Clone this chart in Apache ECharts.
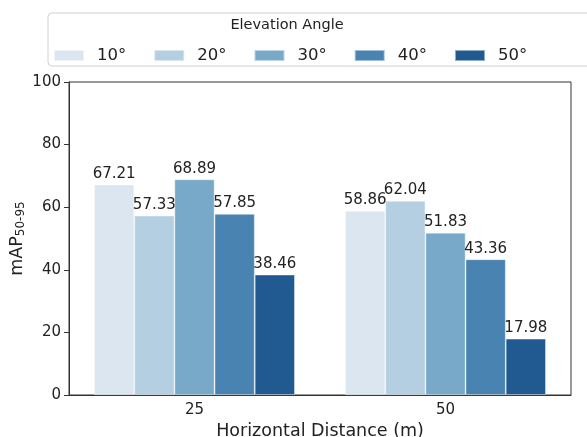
<!DOCTYPE html>
<html><head><meta charset="utf-8">
<script src="https://cdn.jsdelivr.net/npm/echarts@6/dist/echarts.min.js"></script>
<style>html,body{margin:0;padding:0;background:#fff}#c{width:587px;height:437px}</style>
</head><body><div id="c"></div>
<script>
const categories = ['25', '50'];
const seriesNames = ['10°', '20°', '30°', '40°', '50°'];
const s10 = [67.21, 58.86];
const s20 = [57.33, 62.04];
const s30 = [68.89, 51.83];
const s40 = [57.85, 43.36];
const s50 = [38.46, 17.98];
const yTicks = [0, 20, 40, 60, 80, 100];
const colors = ['#dbe6f1', '#b4cfe1', '#78a9c9', '#4883b2', '#215a90'];
const allVals = [s10, s20, s30, s40, s50];
const FONT = 'DejaVu Sans';

const chart = echarts.init(document.getElementById('c'), null, {renderer: 'canvas'});
chart.setOption({
  animation: false,
  textStyle: {fontFamily: FONT},
  title: {
    text: 'Elevation Angle', left: 287, top: 18, textAlign: 'center', padding: 0,
    textStyle: {fontFamily: FONT, fontSize: 14.5, fontWeight: 'normal', color: '#222'}
  },
  graphic: [
    {type: 'rect', shape: {x: 48, y: 13, width: 560, height: 53, r: 4},
     style: {fill: '#fff', stroke: '#d0d0d0', lineWidth: 1}, z: -1}
  ],
  legend: {
    left: 48, top: 42,
    itemWidth: 30, itemHeight: 11, itemGap: 27,
    icon: 'rect',
    textStyle: {fontFamily: FONT, fontSize: 16.5, color: '#222', padding: [0, 0, 0, 8]},
    data: seriesNames
  },
  grid: {left: 69, right: 16, top: 82, bottom: 42, outerBoundsMode: 'none', containLabel: false,
         show: true, borderColor: '#333', borderWidth: 1},
  xAxis: {
    type: 'category', data: categories,
    name: 'Horizontal Distance (m)', nameLocation: 'middle', nameGap: 26,
    nameTextStyle: {fontFamily: FONT, fontSize: 17.5, color: '#222'},
    axisLine: {lineStyle: {color: '#333'}},
    axisTick: {alignWithLabel: true, length: 5, lineStyle: {color: '#333'}},
    axisLabel: {fontFamily: FONT, fontSize: 15, color: '#222', margin: 8}
  },
  yAxis: {
    type: 'value', min: yTicks[0], max: yTicks[yTicks.length - 1], interval: 20,
    name: '{m|mAP}{s|50-95}', nameLocation: 'middle', nameGap: 42, nameMoveOverlap: false,
    nameTextStyle: {rich: {
      m: {fontFamily: FONT, fontSize: 17.5, color: '#222'},
      s: {fontFamily: FONT, fontSize: 12, color: '#222', verticalAlign: 'bottom', padding: [8, 0, 0, 0]}
    }},
    axisLine: {show: true, lineStyle: {color: '#333'}},
    axisTick: {show: true, length: 5, lineStyle: {color: '#333'}},
    splitLine: {show: false},
    axisLabel: {fontFamily: FONT, fontSize: 15, color: '#222', margin: 8}
  },
  series: seriesNames.map((n, i) => ({
    name: n, type: 'bar', data: allVals[i],
    barGap: '0%', barCategoryGap: '20%',
    itemStyle: {color: colors[i], borderColor: 'rgba(255,255,255,0.5)', borderWidth: 0.8},
    label: {show: true, position: 'top', distance: 3, fontFamily: FONT, fontSize: 15, color: '#222',
            formatter: p => p.value.toFixed(2)}
  }))
});
</script></body></html>
